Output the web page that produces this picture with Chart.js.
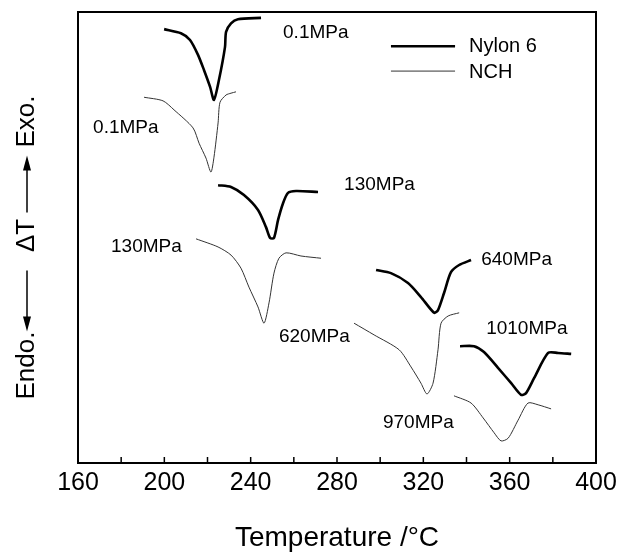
<!DOCTYPE html>
<html>
<head>
<meta charset="utf-8">
<script src="https://cdn.jsdelivr.net/npm/chart.js@4/dist/chart.umd.min.js"></script>
<style>
  html, body { margin: 0; padding: 0; background: #fff; }
  #wrap { width: 624px; height: 552px; }
</style>
</head>
<body>
<div id="wrap"><canvas id="myChart" width="624" height="552"></canvas></div>
<script>
// DSC curves, [temperature °C, heat flow (arbitrary, offset per curve)]
const nylon_01 = [[199.9,96.2],[207.7,95.3],[211.9,93.8],[215.6,90.5],[218.4,87.1],[221.2,83.4],[223.0,80.5],[225.3,84.9],[228.1,92.2],[228.6,95.6],[230.9,97.5],[234.1,98.4],[244.8,98.7]];
const nch_01 = [[190.6,81.1],[199.4,80.3],[204.5,78.3],[213.3,74.3],[216.1,70.9],[219.3,67.6],[221.6,64.5],[223.0,67.8],[224.9,75.4],[225.8,80.0],[228.6,81.6],[230.9,82.0],[233.2,82.3]];
const nylon_130 = [[224.9,61.6],[230.9,61.2],[236.9,59.4],[243.4,56.1],[247.1,52.3],[249.0,49.9],[250.8,49.9],[252.7,53.9],[255.0,57.6],[257.3,59.9],[261.0,60.3],[271.2,60.1]];
const nch_130 = [[214.7,49.7],[224.9,47.9],[230.9,46.1],[235.5,43.2],[239.2,39.0],[243.4,34.6],[246.2,31.0],[248.5,35.5],[250.8,42.1],[253.1,45.4],[256.4,46.6],[263.3,45.9],[272.6,45.4]];
const nylon_640 = [[298.1,42.8],[305.0,42.1],[312.9,39.9],[318.9,36.8],[325.0,33.3],[326.8,33.9],[329.6,37.7],[332.8,42.3],[336.6,43.9],[342.1,45.0]];
const nch_620 = [[287.9,31.0],[297.2,28.4],[308.8,25.1],[314.3,21.3],[318.9,17.7],[321.7,15.3],[324.5,17.7],[326.8,25.1],[328.2,31.0],[331.5,32.6],[336.6,33.3]];
const nylon_1010 = [[337.0,25.9],[343.5,25.9],[348.1,24.6],[354.6,21.1],[360.7,17.7],[365.3,15.1],[367.6,15.5],[371.3,18.8],[377.8,24.4],[382.4,24.4],[388.5,24.2]];
const nch_970 = [[334.2,14.9],[342.1,13.3],[347.7,10.0],[352.8,6.7],[356.0,4.9],[359.3,5.5],[363.9,9.5],[368.5,13.3],[373.2,12.9],[379.2,12.0]];

const xTicks = [160, 200, 240, 280, 320, 360, 400];
const minorTicks = [180, 220, 260, 300, 340, 380];

// curve labels, anchored at [temperature, y] (left edge, vertical middle)
const curveLabels = [
  ['0.1MPa', 255.0, 95.3],
  ['0.1MPa', 167.0, 74.3],
  ['130MPa', 283.3, 61.6],
  ['130MPa', 175.3, 47.9],
  ['640MPa', 346.8, 45.0],
  ['620MPa', 253.1, 27.9],
  ['1010MPa', 349.1, 29.7],
  ['970MPa', 301.3, 8.9]
];

const FONT = '"Liberation Sans", Arial, Helvetica, sans-serif';

function pts(arr) {
  return arr.map(function (p) { return { x: p[0], y: p[1] }; });
}

function curve(arr, thick) {
  return {
    data: pts(arr),
    borderColor: thick ? '#000' : '#333',
    borderWidth: thick ? 2.6 : 1,
    pointRadius: 0,
    tension: 0.25,
    fill: false
  };
}

function arrow(ctx, x, yFrom, yTo) {
  const dir = yTo > yFrom ? 1 : -1;
  ctx.beginPath();
  ctx.moveTo(x, yFrom);
  ctx.lineTo(x, yTo - dir * 12);
  ctx.stroke();
  ctx.beginPath();
  ctx.moveTo(x, yTo);
  ctx.lineTo(x - 4, yTo - dir * 15);
  ctx.lineTo(x + 4, yTo - dir * 15);
  ctx.closePath();
  ctx.fill();
}

const framePlugin = {
  id: 'frame',
  afterDatasetsDraw(chart) {
    const ctx = chart.ctx;
    const a = chart.chartArea;
    const xs = chart.scales.x;
    const ys = chart.scales.y;
    ctx.save();
    ctx.strokeStyle = '#000';
    ctx.fillStyle = '#000';
    ctx.lineWidth = 2;
    ctx.strokeRect(a.left, a.top, a.right - a.left, a.bottom - a.top);
    // inward ticks on the bottom axis
    ctx.lineWidth = 1.5;
    xTicks.concat(minorTicks).forEach(function (v) {
      const px = xs.getPixelForValue(v);
      ctx.beginPath();
      ctx.moveTo(px, a.bottom);
      ctx.lineTo(px, a.bottom - 6);
      ctx.stroke();
    });

    // curve labels
    ctx.font = '19px ' + FONT;
    ctx.textAlign = 'left';
    ctx.textBaseline = 'middle';
    curveLabels.forEach(function (l) {
      ctx.fillText(l[0], xs.getPixelForValue(l[1]), ys.getPixelForValue(l[2]));
    });

    // legend
    const lx1 = xs.getPixelForValue(305.0);
    const lx2 = xs.getPixelForValue(334.7);
    const ly1 = ys.getPixelForValue(92.4);
    const ly2 = ys.getPixelForValue(86.9);
    ctx.lineWidth = 2.6;
    ctx.beginPath(); ctx.moveTo(lx1, ly1); ctx.lineTo(lx2, ly1); ctx.stroke();
    ctx.lineWidth = 1;
    ctx.strokeStyle = '#333';
    ctx.beginPath(); ctx.moveTo(lx1, ly2); ctx.lineTo(lx2, ly2); ctx.stroke();
    const tx = xs.getPixelForValue(341.2);
    ctx.font = '20px ' + FONT;
    ctx.fillText('Nylon 6', tx, ly1);
    ctx.fillText('NCH', tx, ly2 + 1);

    // y axis title: Endo. <-- dT --> Exo.
    const cx = 27;
    const cy = (a.top + a.bottom) / 2;
    ctx.strokeStyle = '#000';
    ctx.lineWidth = 1.5;
    arrow(ctx, cx, cy - 25, cy - 82);
    arrow(ctx, cx, cy + 33, cy + 94);
    ctx.translate(cx, cy);
    ctx.rotate(-Math.PI / 2);
    ctx.font = '26px ' + FONT;
    ctx.textAlign = 'center';
    ctx.textBaseline = 'middle';
    ctx.fillText('\u0394T', 2, 0);
    ctx.fillText('Exo.', 116, 0);
    ctx.fillText('Endo.', -128, 0);
    ctx.restore();
  }
};

const config = {
  type: 'line',
  data: {
    datasets: [
      curve(nylon_01, true),
      curve(nch_01, false),
      curve(nylon_130, true),
      curve(nch_130, false),
      curve(nylon_640, true),
      curve(nch_620, false),
      curve(nylon_1010, true),
      curve(nch_970, false)
    ]
  },
  options: {
    responsive: false,
    animation: false,
    layout: { padding: { top: 12, right: 28, left: 0, bottom: 0 } },
    plugins: {
      legend: { display: false },
      tooltip: { enabled: false }
    },
    scales: {
      x: {
        type: 'linear',
        min: 160,
        max: 400,
        afterFit: function (scale) { scale.height = 89; },
        afterBuildTicks: function (scale) {
          scale.ticks = xTicks.map(function (v) { return { value: v }; });
        },
        ticks: { color: '#000', font: { family: FONT, size: 25 }, padding: 5, maxRotation: 0, autoSkip: false },
        grid: { display: false, drawTicks: false },
        border: { display: false },
        title: {
          display: true,
          text: 'Temperature /°C',
          color: '#000',
          font: { family: FONT, size: 28, lineHeight: 1 },
          padding: { top: 0, bottom: 0 }
        }
      },
      y: {
        min: 0,
        max: 100,
        afterFit: function (scale) { scale.width = 78; },
        ticks: { display: false },
        grid: { display: false, drawTicks: false },
        border: { display: false },
        title: { display: false }
      }
    }
  },
  plugins: [framePlugin]
};

const ctx = document.getElementById('myChart').getContext('2d');
const myChart = new Chart(ctx, config);
</script>
</body>
</html>
